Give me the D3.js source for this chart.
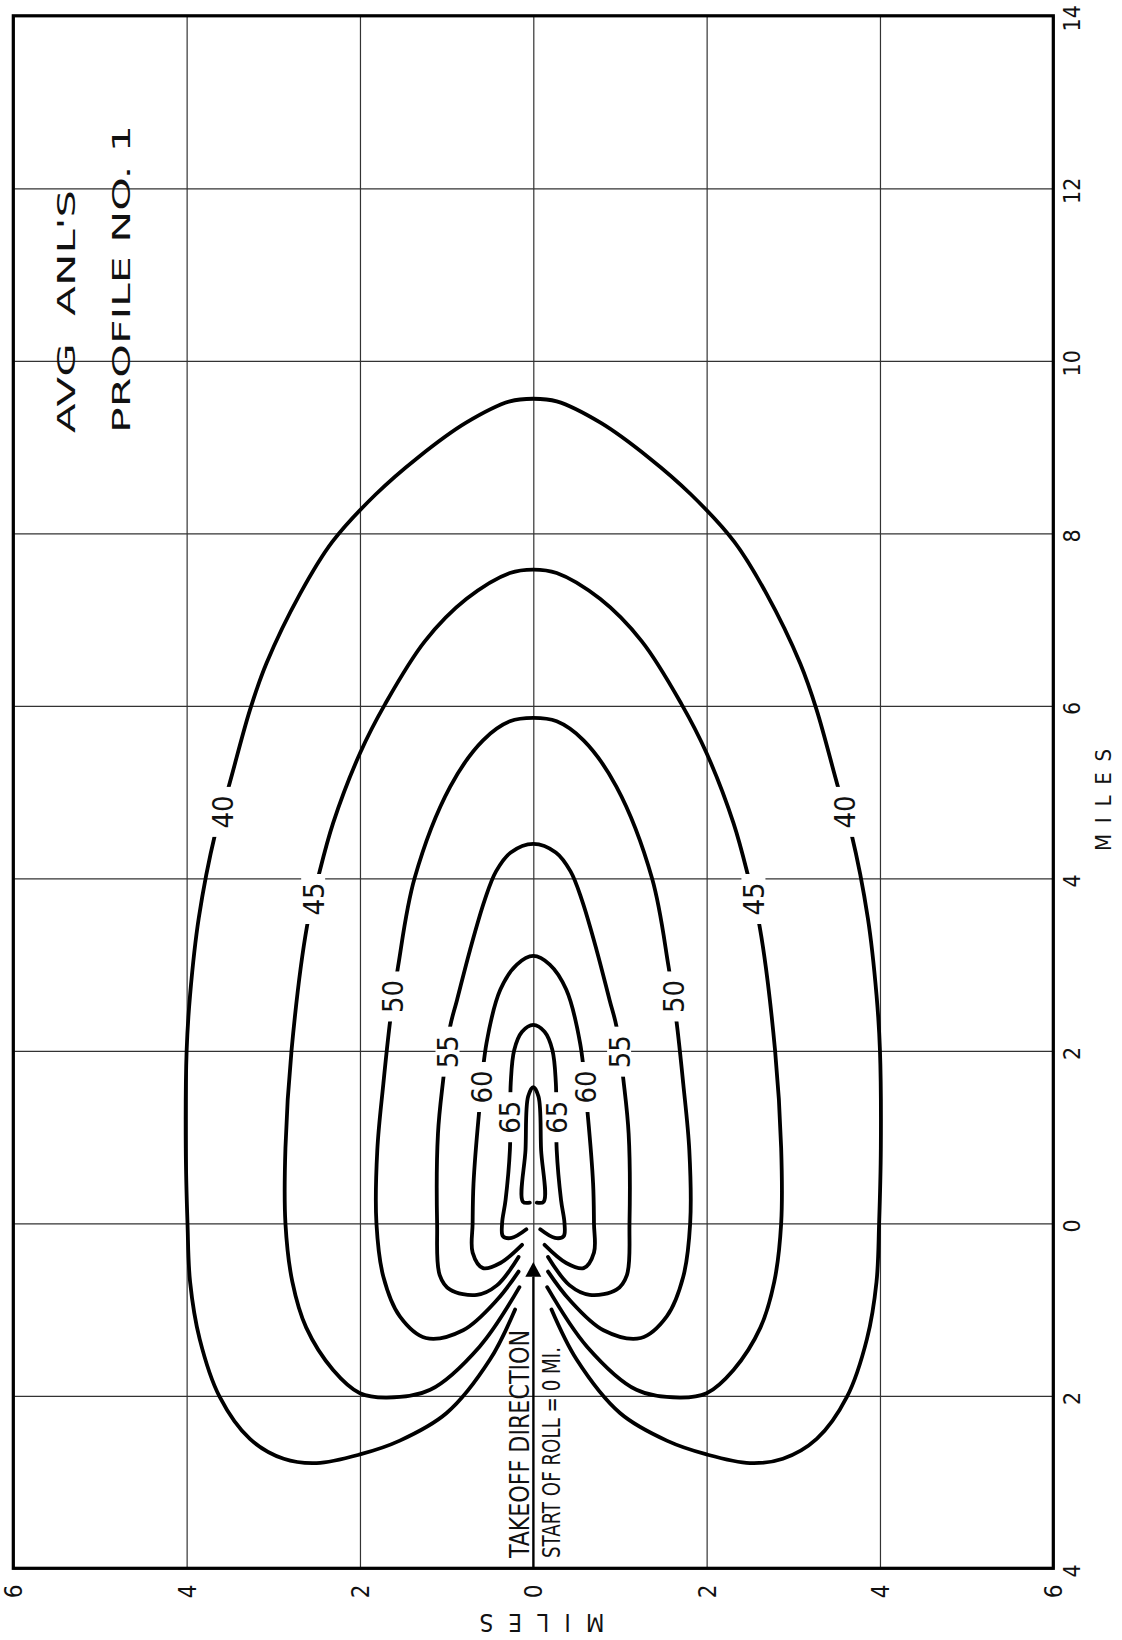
<!DOCTYPE html>
<html>
<head>
<meta charset="utf-8">
<script src="https://cdn.jsdelivr.net/npm/d3@7"></script>
<style>
  body { margin: 0; background: #fff; }
  svg { display: block; }
  text { font-family: "DejaVu Sans Condensed", "DejaVu Sans", sans-serif; font-stretch: condensed; fill: #111; }
</style>
</head>
<body>
<svg id="chart" width="1122" height="1640"></svg>
<script>
// along the runway (miles), drawn up the page
const alongTicks = [-4, -2, 0, 2, 4, 6, 8, 10, 12, 14]
const alongTickLabels = ['4', '2', '0', '2', '4', '6', '8', '10', '12', '14']
// sideline distance (miles), left to right
const sideTicks = [-6, -4, -2, 0, 2, 4, 6]
const sideTickLabels = ['6', '4', '2', '0', '2', '4', '6']

// left half of each contour as [along, side], from the inner end by the runway
// round the rear lobe and up to the nose on the centre line
const contour40 = [[-1.0, -0.21], [-1.58, -0.50], [-2.20, -1.0], [-2.52, -1.54], [-2.68, -2.0], [-2.78, -2.5],
    [-2.73, -2.88], [-2.50, -3.27], [-2.01, -3.62], [-1.34, -3.85], [-0.68, -3.96], [0, -3.99], [0.87, -4.01],
    [2.0, -4.0], [2.65, -3.96], [3.54, -3.86], [4.52, -3.67], [5.08, -3.51], [5.95, -3.27], [6.49, -3.08],
    [7.30, -2.69], [7.90, -2.32], [8.45, -1.82], [8.88, -1.33], [9.28, -0.78], [9.53, -0.27], [9.56, 0]]
const contour45 = [[-0.74, -0.16], [-1.43, -0.62], [-1.93, -1.19], [-2.02, -1.69], [-1.97, -2.0], [-1.70, -2.31],
    [-1.21, -2.62], [-0.68, -2.78], [0, -2.86], [0.87, -2.86], [2.0, -2.79], [3.45, -2.61], [4.02, -2.48],
    [4.64, -2.31], [5.45, -2.0], [6.02, -1.71], [6.75, -1.25], [7.24, -0.77], [7.54, -0.27], [7.58, 0]]
const contour50 = [[-0.56, -0.17], [-0.89, -0.42], [-1.24, -0.81], [-1.33, -1.24], [-1.08, -1.54], [-0.62, -1.73],
    [0, -1.81], [0.85, -1.80], [1.62, -1.73], [2.36, -1.65], [2.98, -1.56], [4.0, -1.37], [5.06, -0.96],
    [5.60, -0.58], [5.82, -0.27], [5.86, 0]]
const contour55 = [[-0.39, -0.17], [-0.72, -0.42], [-0.83, -0.65], [-0.77, -0.96], [-0.60, -1.08], [0, -1.11],
    [1.04, -1.10], [1.66, -1.04], [2.28, -0.96], [2.59, -0.88], [3.17, -0.73], [3.75, -0.56], [4.08, -0.43],
    [4.30, -0.26], [4.40, 0]]
const contour60 = [[-0.25, -0.13], [-0.46, -0.38], [-0.52, -0.58], [-0.34, -0.70], [0, -0.70], [0.46, -0.69],
    [1.24, -0.63], [2.09, -0.54], [2.71, -0.38], [3.0, -0.19], [3.10, 0]]
const contour65 = [[-0.07, -0.08], [-0.17, -0.25], [-0.15, -0.35], [0, -0.36], [0.27, -0.32], [0.85, -0.27],
    [1.63, -0.26], [2.01, -0.22], [2.22, -0.13], [2.30, 0]]
const contour70 = [[0.24, -0.04], [0.25, -0.12], [0.85, -0.09], [1.47, -0.06], [1.58, 0]]
const contours = [contour40, contour45, contour50, contour55, contour60, contour65, contour70]

// level labels sit in gaps, one each side
const labelText = ['40', '45', '50', '55', '60', '65']
const labelAlong = [4.77, 3.76, 2.63, 1.99, 1.58, 1.23]
const labelSide = [3.59, 2.54, 1.62, 0.99, 0.60, 0.27]

// takeoff arrow: tail, tip, base of head (along-track miles)
const arrowAlong = [-4, -0.45, -0.62]

const svg = d3.select('#chart')
const plotLeft = 13.3, plotRight = 1053.3, plotTop = 15.8, plotBottom = 1568.3
const fontStack = '"DejaVu Sans Condensed", "DejaVu Sans", sans-serif'

const x = d3.scaleLinear().domain([-6, 6]).range([plotLeft, plotRight])
const y = d3.scaleLinear().domain([-4, 14]).range([plotBottom, plotTop])

// grid from the axes, labels restyled to match the sideways lettering
const xAxis = svg.append('g')
    .attr('transform', `translate(0,${plotBottom})`)
    .call(d3.axisBottom(x).tickValues(sideTicks).tickSize(-(plotBottom - plotTop)).tickPadding(0)
        .tickFormat((d, i) => sideTickLabels[i]))
const yAxis = svg.append('g')
    .attr('transform', `translate(${plotRight},0)`)
    .call(d3.axisRight(y).tickValues(alongTicks).tickSize(-(plotRight - plotLeft)).tickPadding(0)
        .tickFormat((d, i) => alongTickLabels[i]))

svg.selectAll('.domain').remove()
svg.selectAll('.tick line').attr('stroke', '#333').attr('stroke-width', 1.2)

xAxis.selectAll('.tick text')
    .attr('x', 0).attr('y', 0).attr('dy', '0.36em')
    .attr('transform', 'translate(0,23) rotate(-90)')
    .attr('text-anchor', 'middle')
    .attr('font-size', 24).attr('fill', '#111')
    .style('font-family', fontStack)
yAxis.selectAll('.tick text')
    .attr('x', 0).attr('y', 0).attr('dy', '0.36em')
    .attr('transform', 'translate(18,2) rotate(-90)')
    .attr('text-anchor', 'middle')
    .attr('font-size', 23).attr('fill', '#111')
    .style('font-family', fontStack)

// contours, mirrored about the runway centre line
const line = d3.line()
    .x(d => x(d[1]))
    .y(d => y(d[0]))
    .curve(d3.curveCatmullRom.alpha(0.5))

const whole = half => half.concat(half.slice(0, -1).reverse().map(d => [d[0], -d[1]]))

svg.append('g').selectAll('path')
    .data(contours)
    .enter().append('path')
    .attr('d', d => line(whole(d)))
    .attr('fill', 'none')
    .attr('stroke', '#000')
    .attr('stroke-width', 3.8)
    .attr('stroke-linecap', 'round')
    .attr('stroke-linejoin', 'round')

const labelData = []
labelText.forEach((t, i) => {
    labelData.push({ t: t, u: labelAlong[i], v: -labelSide[i] })
    labelData.push({ t: t, u: labelAlong[i], v: labelSide[i] })
})

const lab = svg.append('g').selectAll('g')
    .data(labelData)
    .enter().append('g')
    .attr('transform', d => `translate(${x(d.v)},${y(d.u)}) rotate(-90)`)
lab.append('rect')
    .attr('x', -25).attr('y', -12).attr('width', 50).attr('height', 24)
    .attr('fill', '#fff')
lab.append('text')
    .attr('text-anchor', 'middle')
    .attr('dy', '0.36em')
    .attr('font-size', 29)
    .text(d => d.t)

// frame
svg.append('rect')
    .attr('x', plotLeft).attr('y', plotTop)
    .attr('width', plotRight - plotLeft).attr('height', plotBottom - plotTop)
    .attr('fill', 'none').attr('stroke', '#000').attr('stroke-width', 3.2)

// takeoff arrow
svg.append('line')
    .attr('x1', x(0)).attr('x2', x(0))
    .attr('y1', y(arrowAlong[0])).attr('y2', y(arrowAlong[2]))
    .attr('stroke', '#000').attr('stroke-width', 2.2)
svg.append('path')
    .attr('d', `M${x(0)},${y(arrowAlong[1])} L${x(0) - 8},${y(arrowAlong[2])} L${x(0) + 8},${y(arrowAlong[2])} Z`)
    .attr('fill', '#000')

svg.append('text')
    .attr('transform', `translate(529,1558) rotate(-90)`)
    .attr('font-size', 26)
    .attr('textLength', 228).attr('lengthAdjust', 'spacingAndGlyphs')
    .text('TAKEOFF DIRECTION')
svg.append('text')
    .attr('transform', `translate(560,1558) rotate(-90)`)
    .attr('font-size', 24)
    .attr('textLength', 211).attr('lengthAdjust', 'spacingAndGlyphs')
    .text('START OF ROLL = 0 MI.')

// title
svg.append('text')
    .attr('transform', 'translate(75,433) rotate(-90)')
    .attr('font-size', 25)
    .style('white-space', 'pre')
    .attr('textLength', 243).attr('lengthAdjust', 'spacingAndGlyphs')
    .text('AVG  ANL\'S')
svg.append('text')
    .attr('transform', 'translate(130,433) rotate(-90)')
    .attr('font-size', 25)
    .attr('textLength', 308).attr('lengthAdjust', 'spacingAndGlyphs')
    .text('PROFILE NO. 1')

// axis titles
svg.append('text')
    .attr('transform', 'translate(542,1623) rotate(180)')
    .attr('text-anchor', 'middle').attr('dy', '0.36em')
    .attr('font-size', 24)
    .attr('textLength', 125).attr('lengthAdjust', 'spacing')
    .text('MILES')
svg.append('text')
    .attr('transform', 'translate(1103,800) rotate(-90)')
    .attr('text-anchor', 'middle').attr('dy', '0.36em')
    .attr('font-size', 22)
    .attr('textLength', 102).attr('lengthAdjust', 'spacing')
    .text('MILES')
</script>
</body>
</html>
